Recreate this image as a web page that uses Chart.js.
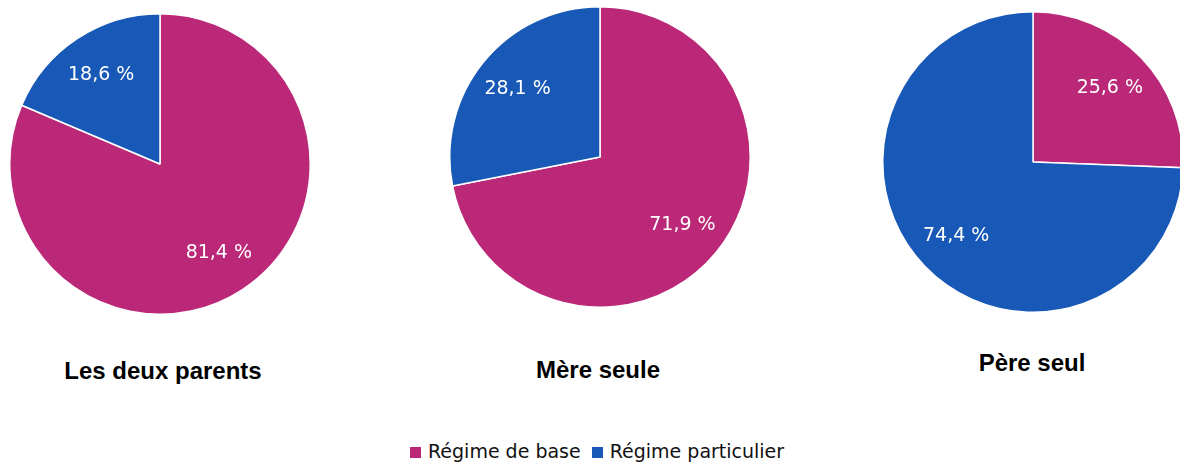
<!DOCTYPE html>
<html lang="fr">
<head>
<meta charset="utf-8">
<title>Régime selon le parent</title>
<script src="https://cdn.jsdelivr.net/npm/chart.js@4.4.0/dist/chart.umd.min.js"></script>
<style>
    html, body {
        margin: 0;
        padding: 0;
        background: #ffffff;
        width: 1180px;
        height: 468px;
        overflow: hidden;
        position: relative;
    }
    canvas { position: absolute; }
    .titre {
        position: absolute;
        font-family: "Liberation Sans", Arial, sans-serif;
        font-weight: bold;
        font-size: 24px;
        color: #000;
        transform: translateX(-50%);
        white-space: nowrap;
    }
    #legende {
        position: absolute;
        left: 410px;
        top: 440px;
        font-family: "DejaVu Sans", sans-serif;
        font-size: 19px;
        color: #111;
        white-space: nowrap;
        display: flex;
        align-items: center;
    }
    .carre {
        display: inline-block;
        width: 11px;
        height: 11px;
        margin-right: 7px;
    }
</style>
</head>
<body>

<canvas id="pieDeuxParents" width="302" height="302" style="left:9px; top:13px;"></canvas>
<canvas id="pieMereSeule" width="302" height="302" style="left:449px; top:6px;"></canvas>
<canvas id="piePereSeul" width="302" height="302" style="left:882px; top:11px;"></canvas>

<div class="titre" style="left:163px; top:357px;">Les deux parents</div>
<div class="titre" style="left:598px; top:356px;">Mère seule</div>
<div class="titre" style="left:1032px; top:349px;">Père seul</div>

<div id="legende"></div>

<script>
// --- DONNÉES ---
const CATEGORIES = ["Régime de base", "Régime particulier"];
const COULEURS = ["#BB2878", "#1858B6"];

const DEUX_PARENTS = [81.4, 18.6];
const MERE_SEULE = [71.9, 28.1];
const PERE_SEUL = [25.6, 74.4];

// --- ÉTIQUETTES DANS LES PARTS ---
const pluginEtiquettes = {
    id: "etiquettes",
    afterDatasetsDraw(chart) {
        const ctx = chart.ctx;
        const meta = chart.getDatasetMeta(0);
        const valeurs = chart.data.datasets[0].data;
        ctx.save();
        ctx.font = "19px 'DejaVu Sans', sans-serif";
        ctx.fillStyle = "#ffffff";
        ctx.textAlign = "center";
        ctx.textBaseline = "middle";
        meta.data.forEach((arc, i) => {
            const p = arc.getProps(["x", "y", "startAngle", "endAngle", "outerRadius"], true);
            const milieu = (p.startAngle + p.endAngle) / 2;
            const r = p.outerRadius * 0.71;
            const x = p.x + Math.cos(milieu) * r;
            const y = p.y + Math.sin(milieu) * r;
            ctx.fillText(valeurs[i].toFixed(1).replace(".", ",") + " %", x, y);
        });
        ctx.restore();
    }
};

function creerCamembert(id, valeurs) {
    const ctx = document.getElementById(id).getContext("2d");
    return new Chart(ctx, {
        type: "pie",
        data: {
            labels: CATEGORIES,
            datasets: [{
                data: valeurs,
                backgroundColor: COULEURS,
                borderColor: "#ffffff",
                borderWidth: 1.5
            }]
        },
        options: {
            responsive: false,
            animation: false,
            layout: { padding: 0 },
            plugins: {
                legend: { display: false },
                tooltip: { enabled: false }
            }
        },
        plugins: [pluginEtiquettes]
    });
}

creerCamembert("pieDeuxParents", DEUX_PARENTS);
creerCamembert("pieMereSeule", MERE_SEULE);
creerCamembert("piePereSeul", PERE_SEUL);

// --- LÉGENDE COMMUNE ---
const legende = document.getElementById("legende");
CATEGORIES.forEach((cat, i) => {
    const item = document.createElement("span");
    item.style.marginRight = i === 0 ? "11px" : "0";
    item.innerHTML = `<span class="carre" style="background:${COULEURS[i]}"></span>${cat}`;
    legende.appendChild(item);
});
</script>
</body>
</html>
